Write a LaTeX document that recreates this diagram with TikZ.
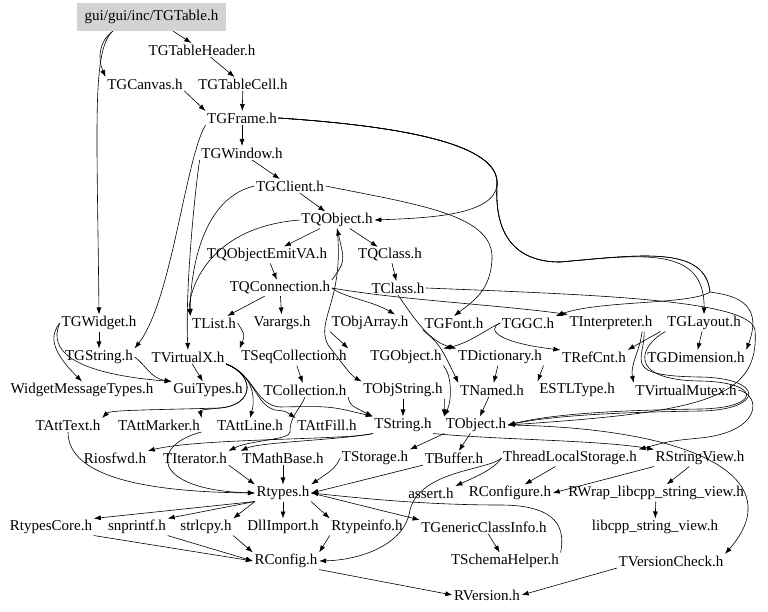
\documentclass[tikz,border=0pt]{standalone}
\usepackage{fontspec}
\setmainfont{Liberation Serif}
\usetikzlibrary{arrows.meta}
\definecolor{rootgray}{RGB}{211,211,211}
\begin{document}
\begin{tikzpicture}[x=1pt,y=-1pt,
  every node/.style={font=\fontsize{15}{16}\selectfont, inner sep=1.5pt},
  e/.style={draw, line width=0.6pt, -{Latex[length=7pt,width=5pt]}}]
\useasboundingbox (0,0) rectangle (768,612);
\fill[white] (0,0) rectangle (768,612);
% nodes
\node[fill=rootgray, minimum width=149pt, minimum height=28pt] (root) at (151.5,17) {gui/gui/inc/TGTable.h};
\node (hdr) at (202,50) {TGTableHeader.h};
\node (canvas) at (145,84) {TGCanvas.h};
\node (cell) at (243,84) {TGTableCell.h};
\node (frame) at (242,118) {TGFrame.h};
\node (window) at (242,153) {TGWindow.h};
\node (client) at (290,186) {TGClient.h};
\node (qobj) at (337,220) {TQObject.h};
\node (emit) at (267,255) {TQObjectEmitVA.h};
\node (qclass) at (390,255) {TQClass.h};
\node (qconn) at (280,288) {TQConnection.h};
\node (tclass) at (398,288) {TClass.h};
\node (widget) at (99,323) {TGWidget.h};
\node (tlist) at (214,323) {TList.h};
\node (varargs) at (282,323) {Varargs.h};
\node (objarr) at (370,323) {TObjArray.h};
\node (font) at (454,323) {TGFont.h};
\node (gc) at (528,323) {TGGC.h};
\node (interp) at (611,323) {TInterpreter.h};
\node (layout) at (704,323) {TGLayout.h};
\node (gstring) at (99,357) {TGString.h};
\node (vx) at (188,357) {TVirtualX.h};
\node (seqcoll) at (294,357) {TSeqCollection.h};
\node (gobj) at (406,357) {TGObject.h};
\node (dict) at (500,357) {TDictionary.h};
\node (refcnt) at (594,357) {TRefCnt.h};
\node (dim) at (696,357) {TGDimension.h};
\node (wmt) at (82,390) {WidgetMessageTypes.h};
\node (guitypes) at (208,390) {GuiTypes.h};
\node (coll) at (305,390) {TCollection.h};
\node (objstr) at (403,390) {TObjString.h};
\node (named) at (492,390) {TNamed.h};
\node (estl) at (577,390) {ESTLType.h};
\node (vmutex) at (686,390) {TVirtualMutex.h};
\node (atttext) at (68,425) {TAttText.h};
\node (attmarker) at (159,425) {TAttMarker.h};
\node (attline) at (250,425) {TAttLine.h};
\node (attfill) at (327,425) {TAttFill.h};
\node (tstring) at (403,425) {TString.h};
\node (tobject) at (476,425) {TObject.h};
\node (riosfwd) at (115,458) {Riosfwd.h};
\node (iter) at (195,458) {TIterator.h};
\node (mathbase) at (283,458) {TMathBase.h};
\node (storage) at (375,458) {TStorage.h};
\node (buffer) at (454,458) {TBuffer.h};
\node (tls) at (570,458) {ThreadLocalStorage.h};
\node (rsv) at (700,458) {RStringView.h};
\node (rtypes) at (283,493) {Rtypes.h};
\node (assert) at (431,493) {assert.h};
\node (rconfigure) at (510,493) {RConfigure.h};
\node (rwrap) at (656,493) {RWrap\_libcpp\_string\_view.h};
\node (rtcore) at (51,527) {RtypesCore.h};
\node (snprintf) at (137,527) {snprintf.h};
\node (strlcpy) at (206,527) {strlcpy.h};
\node (dllimport) at (283,527) {DllImport.h};
\node (rtypeinfo) at (367,527) {Rtypeinfo.h};
\node (gci) at (484,527) {TGenericClassInfo.h};
\node (libcpp) at (655,527) {libcpp\_string\_view.h};
\node (rconfig) at (286,561) {RConfig.h};
\node (schema) at (505,561) {TSchemaHelper.h};
\node (vcheck) at (671,561) {TVersionCheck.h};
\node (rversion) at (487,595) {RVersion.h};
% edges top
\draw[e] (root) -- (hdr);
\draw[e] ([xshift=36pt]root.south west) .. controls (98,42) and (98,60) .. (canvas.north west);
\draw[e] ([xshift=36pt]root.south west) .. controls (92,50) and (97,120) .. (widget.north);
\draw[e] (hdr) -- (cell);
\draw[e] (cell) -- (frame);
\draw[e] (canvas.south east) -- (frame.north west);
\draw[e] (frame) -- (window);
\draw[e] (window) -- (client);
\draw[e] (client) -- (qobj);
\draw[e] (qobj) -- (emit);
\draw[e] (qobj) -- (qclass);
\draw[e] (emit) -- (qconn);
\draw[e] (qclass) -- (tclass);
\draw[e] (qconn.north east) .. controls (345,262) .. (qobj.south);
\draw[e] (qconn) -- (varargs);
\draw[e] (qconn) -- (tlist);
% TGFrame right loop
\draw[e] (frame.east) .. controls (430,128) and (500,150) .. (497,185) .. controls (494,215) and (430,218) .. (qobj.east);
\draw[e] (frame.east) .. controls (430,128) and (500,150) .. (497,185) .. controls (494,240) and (520,262) .. (560,262) .. controls (640,255) and (705,245) .. (layout.north);
\draw[e] (frame.east) .. controls (430,128) and (500,150) .. (497,185) .. controls (494,240) and (520,262) .. (560,262) .. controls (640,255) and (705,245) .. (710,292) .. controls (730,295) and (765,300) .. (dim.north east);
\draw[e] (frame.east) .. controls (430,128) and (500,150) .. (497,185) .. controls (494,240) and (520,262) .. (560,262) .. controls (640,255) and (705,245) .. (710,292) .. controls (690,305) and (600,300) .. (gc.north east);
% left bundle
\draw[e] (frame.south west) .. controls (185,160) and (172,300) .. (gstring.north east);
\draw[e] (window.south west) .. controls (195,190) and (185,290) .. (vx.north);
\draw[e] (client.west) .. controls (195,200) and (190,290) .. (tlist.north west);
\draw[e] (qobj.west) .. controls (200,228) and (188,300) .. (tlist.north west);
% TGClient right
\draw[e] (client.east) .. controls (420,205) and (495,215) .. (492,260) .. controls (490,290) and (475,300) .. (font.north);
\draw[e] (qconn.east) .. controls (400,300) and (500,305) .. (interp.north west);
\draw[e] (qconn.east) .. controls (345,298) and (370,300) .. ([xshift=-15pt]objarr.north east);
\draw[e] (qobj.south) .. controls (345,300) and (315,320) .. (328,345) .. controls (340,360) and (350,375) .. (objstr.north west);
\draw[e] (tclass.south) .. controls (415,320) and (430,342) .. (dict.north west);
\draw[e] (tclass.east) .. controls (600,295) and (750,300) .. (755,330) .. controls (760,400) and (700,412) .. (tobject.east);
\draw[e] ([xshift=-12pt]interp.south east) .. controls (640,350) and (630,365) .. (vmutex.north west);
\draw[e] ([xshift=-10pt]interp.south east) .. controls (645,360) and (620,376) .. (700,377) .. controls (765,378) and (765,410) .. (700,411) .. controls (640,412) and (560,414) .. (tobject.east);
\draw[e] (layout) -- (dim);
\draw[e] ([xshift=-5pt]layout.south west) -- (refcnt.north east);
\draw[e] (layout.south west) .. controls (640,345) and (625,380) .. (700,381) .. controls (762,382) and (762,408) .. (700,409) .. controls (640,410) and (560,412) .. (tobject.east);
\draw[e] (gc.west) .. controls (485,330) and (500,343) .. (refcnt.north west);
\draw[e] (gc.west) .. controls (485,330) and (470,343) .. (gobj.north east);
\draw[e] (font.south west) .. controls (440,345) .. (named.north west);
\draw[e] (dict) -- (named);
\draw[e] (dict.south east) -- (estl.north west);
\draw[e] (named) -- (tobject);
\draw[e] (gobj.south east) .. controls (452,375) and (452,400) .. (tobject.north west);
\draw[e] (objstr) -- (tstring);
\draw[e] (objstr.south east) -- (tobject.north west);
\draw[e] (tlist.east) .. controls (245,335) .. (seqcoll.north west);
\draw[e] (seqcoll) -- (coll);
\draw[e] (objarr.south west) -- (seqcoll.north east);
\draw[e] (coll.south east) .. controls (350,405) .. (tstring.north west);
\draw[e] (coll.south) .. controls (300,410) and (290,415) .. (290,432) .. controls (290,440) and (250,440) .. (iter.north east);
% widget area
\draw[e] (widget) -- (gstring);
\draw[e] (widget.west) .. controls (50,335) and (50,350) .. (wmt.north);
\draw[e] (widget.west) .. controls (52,340) and (52,372) .. (guitypes.north west);
\draw[e] (gstring.east) .. controls (146,365) and (150,378) .. (guitypes.north west);
\draw[e] (vx) -- (guitypes);
\draw[e] (vx.south east) .. controls (255,375) and (255,405) .. (220,408) .. controls (150,410) and (110,410) .. (atttext.north east);
\draw[e] (vx.south east) .. controls (255,375) and (255,405) .. (220,408) .. controls (200,410) .. (attmarker.north east);
\draw[e] (vx.south east) .. controls (255,375) and (255,400) .. (attline.north);
\draw[e] (vx.south east) .. controls (255,375) and (255,405) .. (275,410) .. controls (285,411) .. (attfill.north west);
\draw[e] (vx.south east) .. controls (255,375) and (255,405) .. (280,407) .. controls (330,406) .. (tstring.north west);
% to Rtypes
\draw[e] (atttext.south) .. controls (68,478) and (150,492) .. (rtypes.west);
\draw[e] (attmarker.south east) .. controls (150,445) and (150,490) .. (rtypes.west);
\draw[e] (iter.south east) -- (rtypes.north west);
\draw[e] (mathbase) -- (rtypes);
\draw[e] (storage.west) .. controls (335,468) .. (rtypes.north east);
\draw[e] (buffer.south west) -- (rtypes.east);
\draw[e] (tstring.south west) .. controls (350,440) and (200,438) .. (riosfwd.north east);
\draw[e] (tstring.south west) .. controls (340,440) and (260,442) .. (mathbase.north west);
\draw[e] (tstring.south east) .. controls (500,440) and (600,440) .. (rsv.north west);
\draw[e] (tobject.south west) -- (storage.north east);
\draw[e] (tobject) -- (buffer);
\draw[e] (tobject.east) .. controls (700,428) and (790,480) .. (vcheck.north east);
\draw[e] (vmutex.east) .. controls (762,395) and (762,432) .. (700,438) .. controls (670,441) .. (tls.north east);
\draw[e] (tls.west) .. controls (490,470) and (420,470) .. (410,510) .. controls (405,545) and (360,560) .. (rconfig.east);
\draw[e] (tls.west) .. controls (495,468) and (480,475) .. (assert.north east);
\draw[e] (tls) -- (rconfigure);
\draw[e] (rsv.south west) -- (rconfigure.east);
\draw[e] (rsv) -- (rwrap);
\draw[e] (rwrap) -- (libcpp);
% from Rtypes
\draw[e] (rtypes.south west) -- (rtcore.north east);
\draw[e] (rtypes.south west) -- (snprintf.north east);
\draw[e] (rtypes.south west) -- (strlcpy.north east);
\draw[e] (rtypes) -- (dllimport);
\draw[e] (rtypes.south east) -- (rtypeinfo.north west);
\draw[e] (rtypes.east) -- (gci.north west);
\draw[e] (rtcore.south east) -- (rconfig.west);
\draw[e] (snprintf.south east) -- (rconfig.west);
\draw[e] (strlcpy.south east) -- (rconfig.north west);
\draw[e] (rtypeinfo.south west) -- (rconfig.north east);
\draw[e] (rconfig.south east) -- (rversion.west);
\draw[e] (vcheck.south west) -- (rversion.east);
\draw[e] (gci) -- (schema);
\draw[e] (schema.north east) .. controls (565,530) and (560,505) .. (500,505) .. controls (420,505) and (350,497) .. (rtypes.east);
\end{tikzpicture}
\end{document}
